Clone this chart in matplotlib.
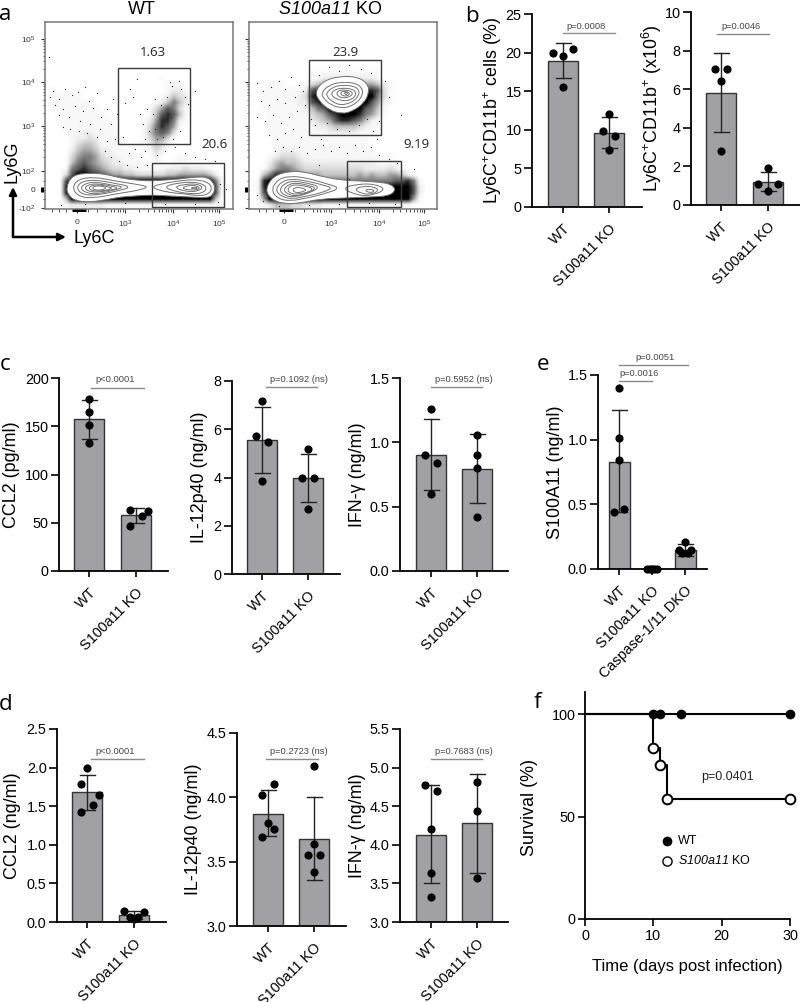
import numpy as np
import matplotlib
matplotlib.use("Agg")
import matplotlib.pyplot as plt
from matplotlib.patches import Rectangle, PathPatch, FancyArrowPatch
from matplotlib.path import Path
from matplotlib.ticker import FormatStrFormatter
from matplotlib.transforms import ScaledTranslation

plt.rcParams['font.family'] = ['Liberation Sans', 'DejaVu Sans']
plt.rcParams['mathtext.fontset'] = 'custom'
plt.rcParams['mathtext.rm'] = 'Liberation Sans'
plt.rcParams['mathtext.cal'] = 'Liberation Sans:italic'
plt.rcParams['mathtext.default'] = 'regular'

W, H = 800, 1002
GROUPS2 = ["WT", "S100a11 KO"]
GROUPS3 = ["WT", "S100a11 KO", "Caspase-1/11 DKO"]

# flow plots: estimated dot density per 6 px cell (0-9), top row first
wt_density = [
    "0", "0", "0", "0", "0", "0", "0", "0", "0",
    "0000000000000000000100000000000",
    "0000000000000000000011100000000",
    "0100000000000000000012210000000",
    "0111110000000000000124320000000",
    "0111111100000000001246420000000",
    "0111111110000000013576310000000",
    "0011111111000000014787410000000",
    "0011111111100000025886210000000",
    "0001111111110000136875100000000",
    "0000112211110000146763000000000",
    "0000122321111000135530000000000",
    "0000134431111001124310000000000",
    "0000245542211100113200000000000",
    "0000356653221110002000100000000",
    "0000467654322111101101111100000",
    "0001678765433221111122232221000",
    "0003799887655443333344555554200",
    "0007999999999999999999999999610",
    "0008999999999999999999999999710",
    "0008999999999999999999999999710",
    "0004999999999999999999999999400",
    "0001222222111111111111111111100",
]
ko_density = [
    "0", "0", "0", "0", "0", "0", "0", "0",
    "0000000000111111111111000000000",
    "0000000000112222222221000000000",
    "0001110001345555555554210000000",
    "0011111112788888888887310000000",
    "0011111123899999999996310000000",
    "0011111122789999999975210000000",
    "0011111112467999999764100000000",
    "0001111111345789998653100000000",
    "0001111111234578876421000000000",
    "0001111111122344443211000000000",
    "0001111111111222221110000000000",
    "0000111111111111111100000000000",
    "0000111111111111111100000000000",
    "0000122211111111111110000000000",
    "0001233321111111111111110000000",
    "0002454432222222222221111000000",
    "0013566543333333333222232100000",
    "0046887665554444445454455421000",
    "0189999987666666666666667786100",
    "0189999999999999999999999997200",
    "0179999999999999999999999997200",
    "0159999999999999999999999995100",
    "0012444332221111111111111110000",
]

# flow plots: stray dots, in display channels
wt_dots = [(8,118),(14,110),(5,112),(20,120),(27,114),(33,117),(40,122),(44,108),(52,116),(18,100),(10,104),(30,103),
           (38,98),(48,101),(56,92),(62,100),(68,110),(24,92),(14,94),(35,88),(45,85),(55,80),(66,85),(72,95),(80,106),
           (88,112),(78,72),(70,70),(62,68),(52,72),(42,76),(34,78),(25,80),(18,82),(90,60),(96,52),(84,56),(100,58),
           (112,54),(120,58),(130,62),(140,56),(150,52),(160,50),(170,48),(150,118),(127,123),(85,120),(100,70),(110,80),
           (95,95),(92,130),(4,152),(173,7),(98,85),(104,78),(108,95),(112,70),(118,72),(102,100),(136,120),(140,112),
           (134,128),(125,127),(143,105),(128,70),(135,78),(145,95),(122,112),(116,104),(110,110),(126,92),(74,48),(82,44),
           (92,42),(102,44),(60,58),(66,52),(16,4),(40,5),(80,6),(120,5),(150,5),(175,25),(181,20)]
ko_dots = [(8,126),(14,118),(22,122),(30,128),(36,120),(42,132),(50,124),(12,108),(20,104),(28,110),(36,106),(46,112),
           (54,118),(8,92),(16,88),(24,94),(32,86),(40,92),(48,98),(56,104),(62,90),(20,74),(28,70),(36,76),(44,80),
           (52,72),(60,78),(66,84),(72,70),(26,58),(34,62),(42,58),(50,62),(58,56),(66,60),(74,64),(82,58),(90,62),
           (98,56),(106,64),(114,58),(122,62),(130,54),(140,50),(148,46),(152,38),(156,28),(160,18),(128,70),(124,78),
           (130,88),(136,128),(140,112),(70,134),(80,142),(90,138),(100,144),(112,140),(122,136),(78,86),(88,80),(100,78),
           (110,84),(118,90),(152,94),(14,8),(8,14),(30,3),(60,4),(90,5),(120,6),(146,5),(158,20),(165,40),(100,30),(70,44)]

# flow plots: contour outlines in display channels
wt_contours = [
    [(21,21),(27,34),(45,36),(60,35),(75,31),(90,29),(105,28),(120,29),(135,30),(150,32),(162,32),(168,27),
     (170,21),(168,14),(162,11),(145,12),(125,13),(105,14),(90,13),(75,12),(60,9),(45,7),(31,8),(24,13)],
    [(27,21),(33,30),(50,32),(70,28),(90,25),(105,22),(90,18),(70,15),(50,11),(34,12)],
    [(31,21),(37,28),(52,29),(68,26),(88,22),(68,17),(52,14),(38,14)],
    [(35,21),(41,26),(52,27),(66,24),(80,22),(66,18),(52,15),(41,16)],
    [(39,21),(45,25),(55,25),(66,23),(74,21),(66,19),(55,17),(45,17)],
    [(43,21),(48,24),(56,24),(63,22),(68,21),(62,19),(56,18),(48,18)],
    [(47,21),(50,23),(57,23),(62,21),(57,19),(50,19)],
    [(105,22),(120,26),(140,29),(155,29),(164,26),(167,21),(164,15),(155,13),(140,15),(120,17)],
    [(118,22),(132,26),(148,27),(158,25),(162,21),(158,16),(148,15),(132,17)],
    [(128,22),(142,25),(152,25),(158,22),(154,18),(142,17)],
    [(136,21),(145,24),(152,23),(155,21),(152,19),(144,19)],
    [(145,21),(150,22),(153,21),(150,20)],
]
ko_contours = [
    [(16,19),(24,33),(41,38),(56,37),(71,33),(91,29),(111,28),(129,27),(142,25),(147,19),(140,13),(121,12),
     (96,11),(71,10),(51,6),(36,5),(23,9)],
    [(22,19),(29,30),(42,33),(58,31),(75,26),(92,21),(75,15),(58,11),(42,8),(29,10)],
    [(26,19),(33,28),(44,30),(58,28),(74,24),(84,21),(72,16),(58,13),(44,10),(33,12)],
    [(30,19),(36,26),(45,28),(58,26),(72,22),(58,15),(45,12),(36,13)],
    [(34,19),(40,25),(48,26),(58,24),(68,21),(58,16),(48,13),(40,14)],
    [(38,19),(42,24),(50,24),(60,22),(64,20),(60,17),(50,15),(42,15)],
    [(43,19),(47,22),(53,21),(58,19),(53,17),(47,16)],
    [(92,21),(110,25),(125,25),(137,20),(125,14),(110,13)],
    [(105,20),(115,23),(125,22),(130,19),(124,15),(113,15)],
    [(115,19),(122,20),(126,18),(121,16)],
    [(66,117),(74,128),(91,133),(109,132),(119,125),(120,116),(115,106),(104,98),(93,95),(80,99),(70,108)],
    [(72,116),(80,124),(92,127),(107,126),(113,121),(114,115),(109,107),(100,102),(92,101),(82,104),(75,110)],
    [(77,116),(84,122),(93,124),(105,123),(110,119),(110,114),(105,108),(98,105),(91,104),(84,107),(79,111)],
    [(82,116),(87,120),(95,121),(103,120),(107,117),(106,112),(101,109),(95,108),(88,110),(84,112)],
    [(87,116),(91,119),(96,119),(102,118),(104,115),(100,112),(95,111),(90,112)],
    [(91,116),(94,118),(99,117),(101,115),(98,113),(94,113)],
    [(95,116),(97,117),(99,116),(97,114)],
]
wt_filled = [0]
ko_filled = [0, 10]

# flow plots: gates (left, bottom, right, top) in display channels
wt_gates = [(73, 65, 145, 141), (107, 2, 179, 46)]
ko_gates = [(60, 74, 132, 149), (98, 2, 152, 48)]

# bar panels: means, error limits, points as (group, offset, value)
b1_mean, b1_err = [18.9, 9.6], [(16.7, 21.2), (7.7, 11.6)]
b1_pts = [(0,-.21,19.9),(0,0,19.6),(0,.21,20.5),(0,0,15.5),(1,0,12.1),(1,-.12,9.9),(1,.12,9.2),(1,0,7.4)]
b2_mean, b2_err = [5.8, 1.2], [(3.8, 7.85), (0.7, 1.7)]
b2_pts = [(0,-.13,7.03),(0,.13,7.03),(0,0,6.4),(0,0,2.8),(1,0,1.9),(1,-.21,1.07),(1,.21,1.07),(1,0,.7)]
c1_mean, c1_err = [157, 58], [(137, 177.5), (50, 65.5)]
c1_pts = [(0,0,178.6),(0,0,165),(0,0,151),(0,0,133),(1,-.12,63),(1,.25,62.4),(1,.12,57),(1,-.12,47)]
c2_mean, c2_err = [5.55, 3.97], [(4.2, 6.92), (2.97, 4.97)]
c2_pts = [(0,0,7.16),(0,-.12,5.72),(0,.12,5.48),(0,0,3.85),(1,0,5.17),(1,-.12,4.0),(1,.12,4.0),(1,0,2.7)]
c3_mean, c3_err = [.9, .79], [(.63, 1.18), (.525, 1.065)]
c3_pts = [(0,0,1.26),(0,-.12,.9),(0,.13,.84),(0,0,.6),(1,0,1.06),(1,0,.9),(1,0,.8),(1,0,.42)]
e_mean, e_err = [.83, 0, .145], [(.44, 1.23), (0, 0), (.10, .19)]
e_pts = [(0,0,1.4),(0,0,1.01),(0,0,.84),(0,.16,.465),(0,-.16,.44),
         (1,-.16,0),(1,-.05,0),(1,0,0),(1,.05,0),(1,.16,0),
         (2,0,.21),(2,-.17,.145),(2,.17,.145),(2,-.08,.12),(2,.08,.12)]
d1_mean, d1_err = [1.68, .09], [(1.45, 1.9), (.04, .14)]
d1_pts = [(0,0,2.0),(0,-.12,1.79),(0,.25,1.65),(0,.13,1.51),(0,-.12,1.43),
          (1,-.21,.14),(1,.21,.13),(1,-.09,.07),(1,.09,.07),(1,0,.04)]
d2_mean, d2_err = [3.87, 3.68], [(3.7, 4.06), (3.36, 4.0)]
d2_pts = [(0,.12,4.10),(0,-.12,4.02),(0,0,3.8),(0,.12,3.755),(0,-.12,3.69),
          (1,0,4.24),(1,0,3.64),(1,-.12,3.55),(1,.13,3.55),(1,0,3.42)]
d3_mean, d3_err = [4.13, 4.28], [(3.5, 4.77), (3.64, 4.92)]
d3_pts = [(0,-.12,4.77),(0,.13,4.70),(0,0,4.21),(0,0,3.63),(0,0,3.33),(1,0,4.81),(1,0,4.44),(1,0,3.57)]

# survival
wt_days, wt_surv = [0, 10, 11, 14, 30], [100, 100, 100, 100, 100]
ko_days, ko_surv = [0, 10, 11, 12, 30], [100, 83.3, 75, 58.3, 58.3]

fig = plt.figure(figsize=(W / 100, H / 100), dpi=100)


def px_axes(left, right, top, bottom):
    return fig.add_axes([left / W, 1 - bottom / H, (right - left) / W, (bottom - top) / H])


def fig_text(x, y, s, **kw):
    kw.setdefault('ha', 'center')
    kw.setdefault('va', 'center')
    fig.text(x / W, 1 - y / H, s, **kw)


def style_spines(ax):
    for side in ('top', 'right'):
        ax.spines[side].set_visible(False)
    for side in ('left', 'bottom'):
        ax.spines[side].set_linewidth(1.3)


def bar_panel(box, bar_px, ylim, yticks, ylabel, label_x, groups, mean, err, pts, pvals, width=30):
    left, right, top, bottom = box
    ax = px_axes(left, right, top, bottom)
    step = bar_px[1] - bar_px[0]
    pos = list(range(len(groups)))
    ax.bar(pos, [m - ylim[0] for m in mean], bottom=ylim[0], width=width / step,
           color='#a1a1a5', edgecolor='#333333', linewidth=1.0, zorder=2)
    for i, (lo, hi) in enumerate(err):
        if hi > lo:
            ax.plot([i, i], [lo, hi], color='#222222', lw=1.0, zorder=3)
            for v in (lo, hi):
                ax.plot([i - 7.5 / step, i + 7.5 / step], [v, v], color='#222222', lw=1.0, zorder=3)
    for g, off, v in pts:
        ax.plot(g + off, v, 'o', color='black', ms=5.9, mew=0, zorder=4, clip_on=False)
    for x0, x1, y, tx, ty, s in pvals:
        ax.plot([x0, x1], [y, y], color='#8a8a8a', lw=1.0, clip_on=False)
        ax.text(tx, ty, s, ha='center', va='center', fontsize=6.7, color='#444444', clip_on=False)
    ax.set_xlim((left - bar_px[0]) / step, (right - bar_px[0]) / step)
    ax.set_ylim(*ylim)
    ax.set_yticks(yticks)
    if any(t != int(t) for t in yticks):
        ax.yaxis.set_major_formatter(FormatStrFormatter('%.1f'))
    ax.set_xticks(pos)
    ax.set_xticklabels(groups, rotation=45, ha='right', rotation_mode='anchor', fontsize=10.4)
    shift = ScaledTranslation(-2 / 100, 0, fig.dpi_scale_trans)
    for lab in ax.get_xticklabels():
        lab.set_transform(lab.get_transform() + shift)
    ax.tick_params(axis='y', labelsize=10.4, length=5.5, width=1.2, pad=2)
    ax.tick_params(axis='x', length=4.5, width=1.2, pad=6)
    ax.set_ylabel(ylabel, fontsize=12.9, va='center')
    ax.yaxis.set_label_coords((label_x - left) / (right - left), 0.5)
    style_spines(ax)
    ax.patch.set_alpha(0)
    return ax


def contour_patch(ax, pts, filled):
    # closed quadratic spline with the read points as control points
    pts = np.array(pts, dtype=float)
    mids = (pts + np.roll(pts, -1, axis=0)) / 2
    verts = [mids[-1]]
    codes = [Path.MOVETO]
    for p, m in zip(pts, mids):
        verts += [p, m]
        codes += [Path.CURVE3, Path.CURVE3]
    ax.add_patch(PathPatch(Path(verts, codes), fc='white' if filled else 'none', ec='#727272', lw=0.7, zorder=3))


def flow_panel(box, density, dots, contours, filled, gates, xticks, xlabs, ylabels):
    left, right, top, bottom = box
    ax = px_axes(left, right, top, bottom)
    grid = np.array([[int(c) for c in row.ljust(31, '0')] for row in density], dtype=float)
    ax.imshow(grid ** 1.3, cmap='Greys', vmin=0, vmax=9 ** 1.3, extent=(0, 186, 1, 187), origin='upper',
              interpolation='bilinear', aspect='auto', zorder=1)
    ax.plot([p[0] for p in dots], [p[1] for p in dots], 'o', color='#222222', ms=0.9, mew=0, zorder=2)
    for i, c in enumerate(contours):
        contour_patch(ax, c, i in filled)
    for x0, y0, x1, y1 in gates:
        ax.add_patch(Rectangle((x0, y0), x1 - x0, y1 - y0, fill=False, ec='#3a3a3a', lw=1.0, zorder=4))
    ax.set_xlim(0, right - left)
    ax.set_ylim(0, bottom - top)
    ax.set_xticks(xticks)
    ax.set_xticklabels(xlabs, fontsize=6, color='#333333')
    ytick_pos = [1, 19, 38, 83, 127, 170]
    ax.set_yticks(ytick_pos)
    ax.set_yticklabels(ylabels, fontsize=6, color='#333333')
    # minor log ticks
    decade = np.log10(np.arange(2, 10))
    x_minor = [xticks[0] - 25, xticks[0] - 18, xticks[0] - 11, xticks[0] + 11, xticks[0] + 20, xticks[0] + 29]
    for a, b in zip(xticks[1:-1], xticks[2:]):
        x_minor += list(a + (b - a) * decade)
    x_minor += list(xticks[1] - 48 + 48 * decade[3:])
    y_minor = [10, 28] + list(38 + 45 * decade) + list(83 + 44 * decade) + list(127 + 43 * decade)
    ax.set_xticks(x_minor, minor=True)
    ax.set_yticks(y_minor, minor=True)
    ax.tick_params(which='major', length=3, width=0.8, pad=4, color='#333333')
    ax.tick_params(which='minor', length=1.8, width=0.6, color='#333333')
    ax.plot([xticks[0] - 5, xticks[0] + 9], [-1, -1], color='black', lw=2.2, clip_on=False, solid_capstyle='butt')
    ax.plot([-3, -3], [17, 22], color='black', lw=2.2, clip_on=False, solid_capstyle='butt')
    for s in ax.spines.values():
        s.set_color('#777777')
        s.set_linewidth(1.1)


# panel a
y_labs = ["-10$^{2}$", "0", "10$^{2}$", "10$^{3}$", "10$^{4}$", "10$^{5}$"]
x_labs = ["0", "10$^{3}$", "10$^{4}$", "10$^{5}$"]
flow_panel((45, 233, 22, 209), wt_density, wt_dots, wt_contours, wt_filled, wt_gates, [32, 80, 128, 174], x_labs, y_labs)
flow_panel((249, 437, 22, 209), ko_density, ko_dots, ko_contours, ko_filled, ko_gates, [35, 82, 130, 175], x_labs, [""] * 6)
fig_text(142, 10, "WT", fontsize=13)
fig_text(330, 10, r"$\mathcal{S100a11}$ KO", fontsize=13)
for x, y, s in [(153, 52, "1.63"), (214, 145, "20.6"), (345, 52, "23.9"), (417, 145, "9.19")]:
    fig_text(x, y, s, fontsize=9.5, family=['Open Sans', 'DejaVu Sans'], color='#222222')
arrow = dict(arrowstyle='-|>', color='black', lw=1.8, mutation_scale=11, shrinkA=0, shrinkB=0)
fig.add_artist(FancyArrowPatch((13 / W, 1 - 237 / H), (13 / W, 1 - 187 / H), transform=fig.transFigure, **arrow))
fig.add_artist(FancyArrowPatch((13 / W, 1 - 237 / H), (66 / W, 1 - 237 / H), transform=fig.transFigure, **arrow))
fig_text(12, 162, "Ly6G", fontsize=13, rotation=90)
fig_text(94, 238, "Ly6C", fontsize=13)

# panels b, c, e
plus_cells = r"Ly6C$^{+}$CD11b$^{+}$ cells (%)"
plus_count = r"Ly6C$^{+}$CD11b$^{+}$ (x10$^{6}$)"
half_steps = [0, .5, 1, 1.5]
bar_panel((532, 642, 14, 207), (563, 609), (0, 25), range(0, 26, 5), plus_cells, 493, GROUPS2, b1_mean, b1_err, b1_pts,
          [(0, 1.12, 22.5, .5, 23.4, "p=0.0008")])
bar_panel((691, 800, 12, 205), (721, 768), (0, 10), range(0, 11, 2), plus_count, 652, GROUPS2, b2_mean, b2_err, b2_pts,
          [(-.09, 1.03, 8.88, .42, 9.24, "p=0.0046")])
bar_panel((59, 168, 378, 571), (89, 136), (0, 200), range(0, 201, 50), "CCL2 (pg/ml)", 12, GROUPS2, c1_mean, c1_err, c1_pts,
          [(.05, 1.17, 190, .56, 198, "p<0.0001")])
bar_panel((232, 340, 381, 574), (262, 308), (0, 8), range(0, 9, 2), "IL-12p40 (ng/ml)", 200, GROUPS2, c2_mean, c2_err, c2_pts,
          [(.085, 1.2, 7.75, .8, 8.05, "p=0.1092 (ns)")])
bar_panel((400, 508, 378, 571), (431, 477), (0, 1.5), half_steps, "IFN-γ (ng/ml)", 357, GROUPS2, c3_mean, c3_err, c3_pts,
          [(0, 1.11, 1.427, .71, 1.487, "p=0.5952 (ns)")])
bar_panel((598, 707, 375, 569), (619, 652), (0, 1.5), half_steps, "S100A11 (ng/ml)", 555, GROUPS3, e_mean, e_err, e_pts,
          [(0, 1, 1.456, .62, 1.508, "p=0.0016"), (0, 2.1, 1.578, 1.08, 1.637, "p=0.0051")], width=21)

# panel d
bar_panel((57, 166, 729, 922), (87, 134), (0, 2.5), [0, .5, 1, 1.5, 2, 2.5], "CCL2 (ng/ml)", 13, GROUPS2, d1_mean, d1_err, d1_pts,
          [(.09, 1.21, 2.116, .6, 2.215, "p<0.0001")])
bar_panel((237, 346, 733, 926), (268, 314), (3, 4.5), [3, 3.5, 4, 4.5], "IL-12p40 (ng/ml)", 193, GROUPS2, d2_mean, d2_err, d2_pts,
          [(-.04, 1.08, 4.296, .67, 4.355, "p=0.2723 (ns)")])
bar_panel((400, 508, 729, 922), (431, 477), (3, 5.5), [3, 3.5, 4, 4.5, 5, 5.5], "IFN-γ (ng/ml)", 357, GROUPS2, d3_mean, d3_err, d3_pts,
          [(0, 1.11, 5.116, .71, 5.215, "p=0.7683 (ns)")])

# panel f
ax = px_axes(585, 790, 692, 919)
ax.step(ko_days, ko_surv, where='post', color='black', lw=1.5, zorder=2)
ax.step(wt_days, wt_surv, where='post', color='black', lw=1.5, zorder=2)
ax.plot(wt_days[1:], wt_surv[1:], 'o', color='black', ms=7, mew=0, clip_on=False, zorder=3)
ax.plot(ko_days[1:], ko_surv[1:], 'o', mfc='white', mec='black', ms=7, mew=1.4, clip_on=False, zorder=4)
ax.plot(12, 38, 'o', color='black', ms=7, mew=0)
ax.plot(12, 28.3, 'o', mfc='white', mec='black', ms=6.6, mew=1.0)
ax.text(13.6, 38, "WT", fontsize=9, va='center')
ax.text(13.6, 28.3, r"$\mathcal{S100a11}$ KO", fontsize=9, va='center')
ax.text(20.8, 69.5, "p=0.0401", fontsize=9, ha='center', va='center', color='#222222')
ax.set_xlim(0, 30)
ax.set_ylim(0, 227 / 2.05)
ax.set_xticks([0, 10, 20, 30])
ax.set_yticks([0, 50, 100])
ax.tick_params(labelsize=10.4, length=5, width=1.2, pad=2)
ax.set_xlabel("Time (days post infection)", fontsize=12, va='center')
ax.xaxis.set_label_coords(0.5, (919 - 966) / 227)
ax.set_ylabel("Survival (%)", fontsize=12.9, va='center')
ax.yaxis.set_label_coords((529 - 585) / 205, 0.49)
style_spines(ax)

# panel letters
for x, y, s in [(5, 15, "a"), (472, 17, "b"), (5, 365, "c"), (543, 365, "e"), (6, 705, "d"), (537, 702, "f")]:
    fig_text(x, y, s, fontsize=16, family=['Open Sans', 'DejaVu Sans'])

fig.savefig("out.png", dpi=100)
